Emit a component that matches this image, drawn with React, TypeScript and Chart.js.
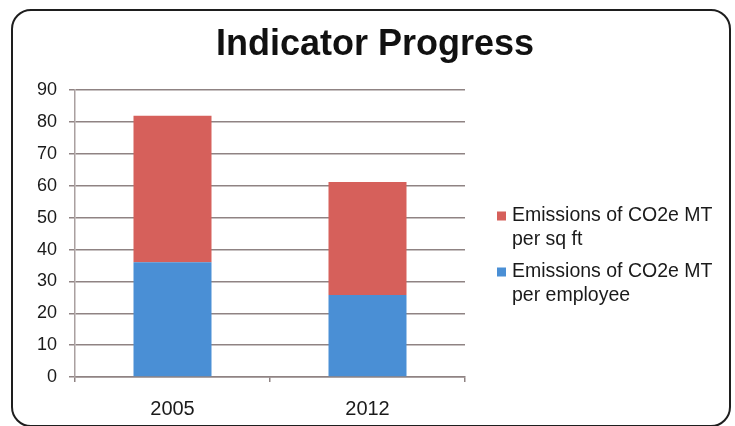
import React, { useEffect, useRef } from "react";
import { Chart, registerables } from "chart.js";

Chart.register(...registerables);

const categories = ["2005", "2012"];
const perEmployee = [36, 25.7];
const perSqFt = [46, 35.5];
const seriesLabels = {
  employee: ["Emissions of CO2e MT", "per employee"],
  sqft: ["Emissions of CO2e MT", "per sq ft"],
};
const yTicksMin = 0;
const yTicksMax = 90;
const yTicksStep = 10;
const titleText = "Indicator Progress";

const FONT = "'Liberation Sans', Arial, sans-serif";
const RED = "#d6605b";
const BLUE = "#4a8fd5";
const GRID = "#8f8383";

const legendPlugin = {
  id: "customLegend",
  afterDraw(chart: any) {
    const ctx = chart.ctx;
    const ds = chart.data.datasets.slice().reverse();
    const x0 = 497;
    let y = 216;
    ctx.save();
    ctx.font = `19.5px ${FONT}`;
    ctx.textBaseline = "middle";
    ctx.textAlign = "left";
    ds.forEach((d: any) => {
      ctx.fillStyle = d.backgroundColor;
      ctx.fillRect(x0, y - 4.5, 9, 9);
      ctx.fillStyle = "#1a1a1a";
      const lines: string[] = d.legendLines;
      lines.forEach((line, i) => {
        ctx.fillText(line, x0 + 15, y + i * 24);
      });
      y += 56;
    });
    ctx.restore();
  },
};

export default function App() {
  const ref = useRef<HTMLCanvasElement>(null);
  useEffect(() => {
    if (!ref.current) return;
    const chart = new Chart(ref.current, {
      type: "bar",
      data: {
        labels: categories,
        datasets: [
          {
            label: seriesLabels.employee.join(" "),
            data: perEmployee,
            backgroundColor: BLUE,
            legendLines: seriesLabels.employee,
          } as any,
          {
            label: seriesLabels.sqft.join(" "),
            data: perSqFt,
            backgroundColor: RED,
            legendLines: seriesLabels.sqft,
          } as any,
        ],
      },
      options: {
        responsive: false,
        animation: false,
        datasets: {
          bar: { categoryPercentage: 1, barPercentage: 0.4 },
        },
        layout: { padding: { left: 15, right: 0, top: 0, bottom: 5 } },
        plugins: {
          legend: { display: false },
          tooltip: { enabled: false },
          title: {
            display: true,
            text: titleText,
            color: "#111",
            font: { family: FONT, size: 36, weight: "bold", lineHeight: 1.2 },
            padding: { top: 23, bottom: 24 },
            align: "center",
          },
        },
        scales: {
          x: {
            stacked: true,
            afterFit: (scale: any) => {
              scale.height = 44;
            },
            grid: {
              display: true,
              drawOnChartArea: false,
              drawTicks: true,
              tickLength: 5,
              color: GRID,
              lineWidth: 1.5,
            },
            border: { display: true, color: GRID, width: 1.5 },
            ticks: {
              color: "#1a1a1a",
              font: { family: FONT, size: 20 },
              padding: 15,
            },
          },
          y: {
            stacked: true,
            min: yTicksMin,
            max: yTicksMax,
            afterFit: (scale: any) => {
              scale.width = 60;
            },
            grid: {
              color: GRID,
              lineWidth: 1.5,
              tickLength: 6,
            },
            border: { display: true, color: "#aaa0a0", width: 1.5 },
            ticks: {
              stepSize: yTicksStep,
              color: "#1a1a1a",
              font: { family: FONT, size: 18 },
              padding: 12,
            },
          },
          legendSpace: {
            type: "linear",
            position: "right",
            display: true,
            afterFit: (scale: any) => {
              scale.width = 270;
            },
            grid: { display: false, drawTicks: false },
            border: { display: false },
            ticks: { display: false },
          },
        },
      },
      plugins: [legendPlugin],
    });
    return () => chart.destroy();
  }, []);

  return (
    <div
      style={{
        position: "absolute",
        left: 0,
        top: 0,
        width: 735,
        height: 426,
        overflow: "hidden",
        background: "#fff",
      }}
    >
      <canvas ref={ref} width={735} height={426} style={{ position: "absolute", left: 0, top: 0 }} />
      <div
        style={{
          position: "absolute",
          left: 11,
          top: 9,
          width: 716,
          height: 414,
          border: "2.5px solid #1e1e1e",
          borderRadius: 20,
          pointerEvents: "none",
        }}
      />
    </div>
  );
}
